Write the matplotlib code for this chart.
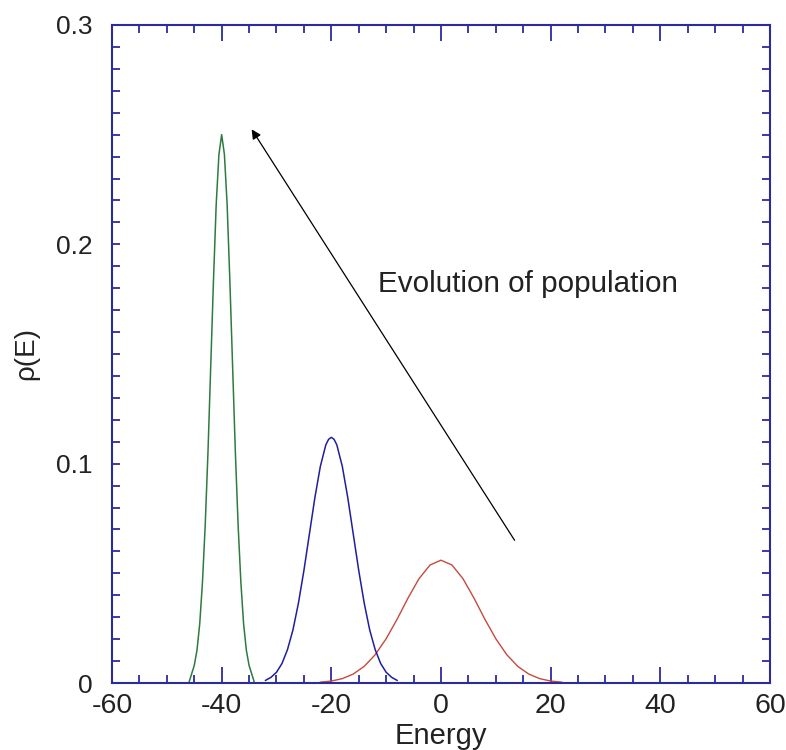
import matplotlib
matplotlib.use("Agg")
import matplotlib.pyplot as plt
from matplotlib.ticker import MultipleLocator, FixedLocator, FixedFormatter

plt.rcParams['font.family'] = ['Liberation Sans', 'DejaVu Sans']

# population density curves
green_e = [-46.0, -45.5, -45.0, -44.5, -44.0, -43.5, -43.0, -42.5, -42.0, -41.5,
           -41.0, -40.5, -40.0, -39.5, -39.0, -38.5, -38.0, -37.5, -37.0, -36.5,
           -36.0, -35.5, -35.0, -34.5, -34.0]
green_rho = [0.000, 0.004, 0.008, 0.015, 0.027, 0.046, 0.072, 0.105, 0.144, 0.183,
             0.218, 0.241, 0.250, 0.241, 0.218, 0.183, 0.144, 0.105, 0.072, 0.046,
             0.027, 0.015, 0.008, 0.004, 0.000]

blue_e = [-32, -31, -30, -29, -28, -27, -26, -25, -24, -23, -22, -21, -20.5, -20,
          -19.5, -19, -18, -17, -16, -15, -14, -13, -12, -11, -10, -9, -8]
blue_rho = [0.0012, 0.0026, 0.0049, 0.0089, 0.0152, 0.0242, 0.0364, 0.0513, 0.0679,
            0.0845, 0.0988, 0.1086, 0.1111, 0.112, 0.1111, 0.1086, 0.0988, 0.0845,
            0.0679, 0.0513, 0.0364, 0.0242, 0.0152, 0.0089, 0.0049, 0.0026, 0.0012]

red_e = [-22, -20, -18, -16, -14, -12, -10, -8, -6, -4, -2, 0,
         2, 4, 6, 8, 10, 12, 14, 16, 18, 20, 22]
red_rho = [0.0004, 0.0009, 0.0020, 0.0041, 0.0076, 0.0129, 0.0202, 0.0291, 0.0388,
           0.0476, 0.0538, 0.056, 0.0538, 0.0476, 0.0388, 0.0291, 0.0202, 0.0129,
           0.0076, 0.0041, 0.0020, 0.0009, 0.0004]

x_ticks = [-60, -40, -20, 0, 20, 40, 60]
x_labels = ['-60', '-40', '-20', '0', '20', '40', '60']
y_ticks = [0, 0.1, 0.2, 0.3]
y_labels = ['0', '0.1', '0.2', '0.3']

arrow_tail = (13.7, 0.064)
arrow_head = (-34.8, 0.2535)

navy = '#2b2b9c'

fig = plt.figure(figsize=(7.86, 7.5), dpi=100)
ax = fig.add_axes([0.1425, 0.0893, 0.8371, 0.8774])

ax.plot(red_e, red_rho, color='#c64a3c', lw=1.0)
ax.plot(blue_e, blue_rho, color='#1f1f9e', lw=1.1)
ax.plot(green_e, green_rho, color='#2f7a40', lw=1.1)

ax.annotate('', xy=arrow_head, xytext=arrow_tail,
            arrowprops=dict(arrowstyle='-|>', color='black', lw=0.9,
                            mutation_scale=14))
ax.text(-11.5, 0.182, 'Evolution of population', fontsize=21.3,
        va='center', ha='left', color='#222222')

ax.set_xlim(-60, 60)
ax.set_ylim(0, 0.3)
ax.xaxis.set_major_locator(FixedLocator(x_ticks))
ax.xaxis.set_major_formatter(FixedFormatter(x_labels))
ax.xaxis.set_minor_locator(MultipleLocator(5))
ax.yaxis.set_major_locator(FixedLocator(y_ticks))
ax.yaxis.set_major_formatter(FixedFormatter(y_labels))
ax.yaxis.set_minor_locator(MultipleLocator(0.01))

for s in ax.spines.values():
    s.set_color(navy)
    s.set_linewidth(1.5)

ax.tick_params(axis='both', which='both', direction='in', color=navy,
               top=True, right=True, width=1.3, labelcolor='#222222')
ax.tick_params(axis='x', which='major', length=11.5, labelsize=20.5, pad=7)
ax.tick_params(axis='x', which='minor', length=5.8)
ax.tick_params(axis='y', which='major', length=5.8, labelsize=19, pad=14)
ax.tick_params(axis='y', which='minor', length=5.8)

ax.set_xlabel('Energy', fontsize=21, labelpad=2, color='#222222')
ax.set_ylabel('ρ(E)', fontsize=20, labelpad=12, color='#222222')

fig.savefig('out.png', dpi=100)
